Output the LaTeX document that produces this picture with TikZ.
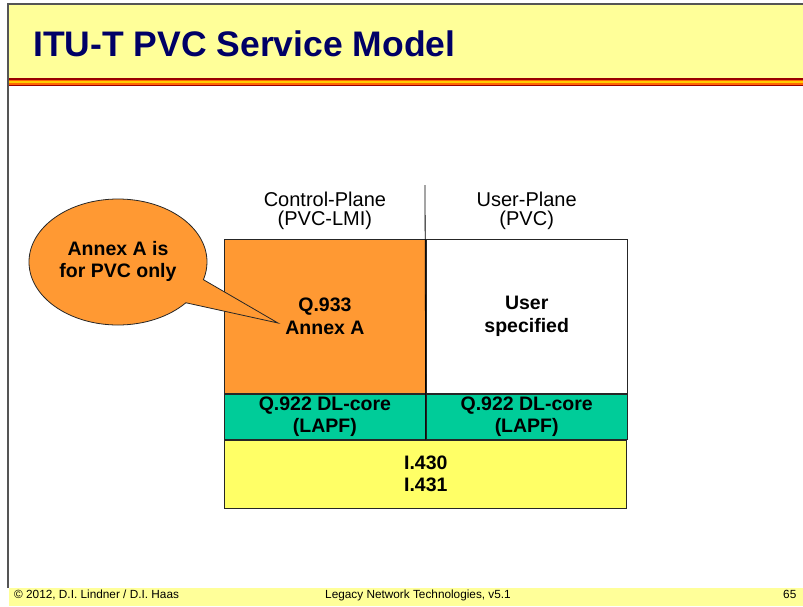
\documentclass[tikz,border=0pt]{standalone}
\usepackage{fontspec}
\setmainfont{Liberation Sans}
\usetikzlibrary{positioning,shapes.callouts}

\definecolor{headyellow}{HTML}{FFFF99}
\definecolor{titleblue}{HTML}{000066}
\definecolor{annexorange}{HTML}{FF9933}
\definecolor{coregreen}{HTML}{00CC99}
\definecolor{phyyellow}{HTML}{FFFF66}
\definecolor{stripered}{HTML}{990000}
\definecolor{stripeorange}{HTML}{FF6600}
\definecolor{stripegold}{HTML}{FFCC00}
\definecolor{framegray}{HTML}{555555}

\begin{document}
\begin{tikzpicture}[
  x=1pt, y=-1pt,
  cell/.style={draw=black!85, line width=0.8pt, align=center, inner sep=0pt,
               font=\fontsize{19.5}{22.5}\selectfont\bfseries},
  planelabel/.style={align=center, inner sep=0pt,
                     font=\fontsize{20}{19}\selectfont},
  foot/.style={anchor=base west, inner sep=0pt, font=\fontsize{11.8}{13}\selectfont}
]
\useasboundingbox (0,0) rectangle (803,606);

% header and footer bands
\fill[headyellow] (8,4) rectangle (803,78);
\fill[stripered] (8,78) rectangle (803,86);
\fill[stripeorange] (8,79.5) rectangle (803,84.5);
\fill[stripegold] (8,81) rectangle (803,83);
\fill[headyellow] (9,588) rectangle (803,606);
\draw[framegray, line width=2pt] (803,4) -- (8,4) -- (8,588);

\node (title) [anchor=base west, inner sep=0pt, text=titleblue,
  font=\fontsize{35.5}{40}\selectfont\bfseries] at (33,56) {ITU-T PVC Service Model};

% protocol stack
\node (q933) [cell, fill=annexorange, minimum width=201pt, minimum height=154pt,
  anchor=north west] at (224,239) {Q.933\\Annex A};
\node (userpl) [cell, minimum width=201pt, minimum height=154pt, right=0pt of q933] {User\\specified};
\node (core1) [cell, fill=coregreen, minimum width=201pt, minimum height=45pt,
  below=0pt of q933] {Q.922 DL-core\\(LAPF)};
\node (core2) [cell, fill=coregreen, minimum width=201pt, minimum height=45pt,
  below=0pt of userpl] {Q.922 DL-core\\(LAPF)};
\node (phy) [cell, fill=phyyellow, minimum width=402pt, minimum height=68pt,
  below=0pt of core1.south east] {I.430\\I.431};

\node (ctrllbl) [planelabel, above=9pt of q933] {Control-Plane\\(PVC-LMI)};
\node (userlbl) [planelabel, above=9pt of userpl] {User-Plane\\(PVC)};

\coordinate (divtop) at (425,185);
\draw[line width=0.8pt] (divtop) -- (core1.south east);

% callout
\coordinate (annextip) at (278,323);
\node (note) [ellipse callout, draw=black!85, fill=annexorange, line width=0.8pt,
  minimum width=178pt, minimum height=126pt, inner sep=0pt,
  callout absolute pointer={(annextip)}, callout pointer arc=24,
  font=\fontsize{19.5}{22.5}\selectfont\bfseries] at (118,262)
  {\raisebox{7pt}{\begin{tabular}{@{}c@{}}Annex A is\\for PVC only\end{tabular}}};

% footer
\node (copy) [foot] at (14,598) {© 2012, D.I. Lindner / D.I. Haas};
\node (course) [foot] at (325,598) {Legacy Network Technologies, v5.1};
\node (page) [foot] at (783,598) {65};
\end{tikzpicture}
\end{document}
